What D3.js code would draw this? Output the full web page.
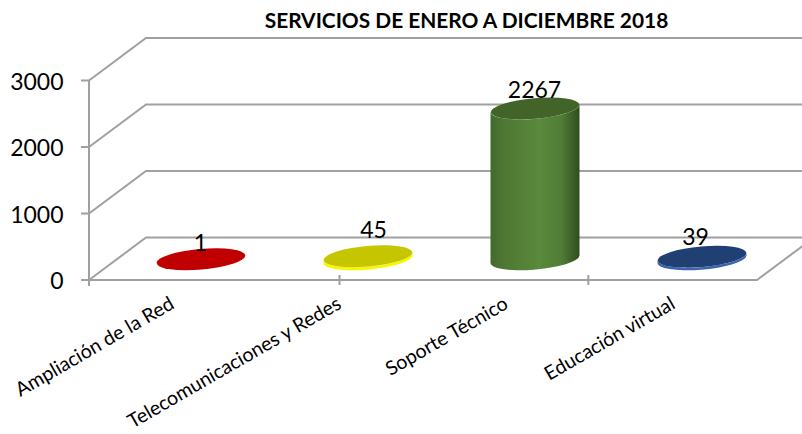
<!DOCTYPE html>
<html>
<head>
<meta charset="utf-8">
<script src="https://cdn.jsdelivr.net/npm/d3@7"></script>
<style>
html,body{margin:0;padding:0;background:#fff;overflow:hidden}
svg{display:block}
text{font-family:Lato,"Open Sans",sans-serif;fill:#000}
</style>
</head>
<body>
<div id="chart"></div>
<script>
const titleText = "SERVICIOS DE ENERO A DICIEMBRE 2018";
const categories = ["Ampliación de la Red", "Telecomunicaciones y Redes", "Soporte Técnico", "Educación virtual"];
const values = [1, 45, 2267, 39];
const yTicks = [0, 1000, 2000, 3000];
const xTickSlots = [0, 1.5, 2.99];

const sideColors = ["#c00000", "#f7f700", null, "#3a65ad"];
const topColors = ["#c00000", "#c6c600", "#426429", "#203f73"];
const labelNudgeX = [0, 6, 0, -6];
const labelGap = [8, 18, 10, 12];

const W = 802, H = 434;
const left = 89, right = 757, y0 = 280, y3000 = 80.5;
const depthX = 57, depthY = 42.5;

const svg = d3.select("#chart").append("svg").attr("width", W).attr("height", H);
const x = d3.scaleBand().domain(categories).range([left, right]);
const slot = d3.scaleLinear().domain([0, categories.length]).range([left, right]);
const y = d3.scaleLinear().domain([0, 3000]).range([y0, y3000]);

const defs = svg.append("defs");
const grad = defs.append("linearGradient").attr("id", "cyl").attr("x1", 0).attr("x2", 1).attr("y1", 0).attr("y2", 0);
[[0, "#44692c"], [0.15, "#4e7733"], [0.55, "#5a8a3c"], [0.8, "#507c35"], [1, "#2f4d1e"]]
  .forEach(s => grad.append("stop").attr("offset", s[0]).attr("stop-color", s[1]));

const gridColor = "#a0a0a0";
const grid = svg.append("g").attr("fill", "none").attr("stroke", gridColor).attr("stroke-width", 2);

yTicks.forEach(t => {
  grid.append("path").attr("d", d3.line()([
    [left, y(t)], [left + depthX, y(t) - depthY], [W + 5, y(t) - depthY]
  ]));
  grid.append("line").attr("x1", left - 8).attr("x2", left).attr("y1", y(t)).attr("y2", y(t));
});
grid.append("line").attr("x1", left).attr("x2", left).attr("y1", y(3000)).attr("y2", y(0) + 6);
grid.append("path").attr("d", d3.line()([
  [left, y(0)], [right, y(0)], [right + depthX, y(0) - depthY]
]));
xTickSlots.forEach(s => {
  grid.append("line").attr("x1", slot(s)).attr("x2", slot(s)).attr("y1", y(0) - 5).attr("y2", y(0) + 5);
});

svg.append("g").selectAll("text").data(yTicks).join("text")
  .attr("x", 63.5).attr("y", d => y(d) + 9).attr("text-anchor", "end")
  .attr("font-size", 23).text(d => d);

svg.append("text").attr("x", 466.5).attr("y", 28).attr("text-anchor", "middle")
  .attr("font-size", 20.9).attr("font-weight", 700).text(titleText);

categories.forEach(c => {
  svg.append("text")
    .attr("transform", `translate(${x(c) + x.bandwidth() / 2 + 3},${y(0) + 27.5}) rotate(-30)`)
    .attr("text-anchor", "end").attr("font-size", 19.6).text(c);
});

const rx = 44.5, ry = 10.3, tilt = -5;
const dx = rx, dy = 3.4;
const baseY = y(0) - depthY / 2 + 0.5;
const rise = d => y(0) - y(d);
const cxOf = c => x(c) + x.bandwidth() / 2 + depthX / 2;
const marks = svg.append("g");

categories.forEach((c, i) => {
  const v = values[i], cx = cxOf(c), topY = baseY - rise(v);
  const side = `M${cx - dx},${topY + dy}L${cx - dx},${baseY + dy}`
    + `A${rx},${ry} ${tilt} 0 0 ${cx + dx},${baseY - dy}`
    + `L${cx + dx},${topY - dy}`
    + `A${rx},${ry} ${tilt} 0 1 ${cx - dx},${topY + dy}Z`;
  marks.append("path").attr("d", side)
    .attr("fill", sideColors[i] || "url(#cyl)");
  marks.append("ellipse")
    .attr("transform", `translate(${cx},${topY}) rotate(${tilt})`)
    .attr("rx", rx).attr("ry", ry).attr("fill", topColors[i]);
  marks.append("text")
    .attr("x", cx - 0.5 + labelNudgeX[i]).attr("y", topY - labelGap[i]).attr("text-anchor", "middle")
    .attr("font-size", 23).text(v);
});
</script>
</body>
</html>
